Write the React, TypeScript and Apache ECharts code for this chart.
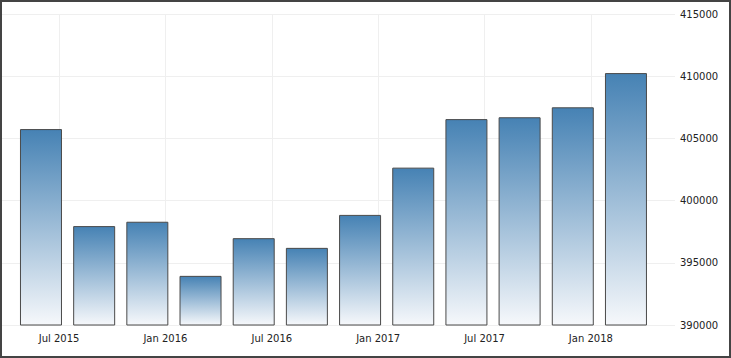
import React, { useEffect, useRef } from "react";
import * as echarts from "echarts";

const periods = [
  "Jul 2015", "Oct 2015", "Jan 2016", "Apr 2016", "Jul 2016", "Oct 2016",
  "Jan 2017", "Apr 2017", "Jul 2017", "Oct 2017", "Jan 2018", "Apr 2018",
];
const values = [
  405750, 397950, 398300, 393950, 396980, 396200,
  398850, 402650, 406550, 406700, 407500, 410250,
];
const xTickLabels = ["Jul 2015", "Jan 2016", "Jul 2016", "Jan 2017", "Jul 2017", "Jan 2018"];
const yMin = 390000;
const yMax = 415000;
const yStep = 5000;

// x-axis geometry in bar-index units
const X_MIN = -0.733;
const X_MAX = 11.922;
const LABEL_OFFSET = 0.34;

export default function App() {
  const ref = useRef<HTMLDivElement>(null);

  useEffect(() => {
    if (!ref.current) return;
    const chart = echarts.init(ref.current, undefined, { renderer: "svg" });
    const labelPositions = xTickLabels.map((_, k) => k * 2 + LABEL_OFFSET);
    const font = { fontFamily: "DejaVu Sans", fontSize: 10, color: "#222" };
    chart.setOption({
      animation: false,
      backgroundColor: "#fff",
      grid: { left: 2, right: 56, top: 14, bottom: 33 },
      xAxis: {
        type: "value",
        min: X_MIN,
        max: X_MAX,
        axisLine: { show: false },
        axisTick: { show: false, customValues: labelPositions },
        axisLabel: {
          ...font,
          margin: 8,
          customValues: labelPositions,
          formatter: (v: number) => {
            const k = Math.round((v - LABEL_OFFSET) / 2);
            return xTickLabels[k] ?? "";
          },
        },
        splitLine: { show: true, lineStyle: { color: "#efefef", width: 1 } },
      },
      yAxis: {
        type: "value",
        position: "right",
        min: yMin,
        max: yMax,
        interval: yStep,
        axisLine: { show: false },
        axisTick: { show: false },
        axisLabel: { ...font, margin: 5, formatter: (v: number) => String(v) },
        splitLine: { show: true, lineStyle: { color: "#efefef", width: 1 } },
      },
      series: [
        {
          type: "bar",
          barWidth: 42,
          data: values.map((v, i) => ({ value: [i, v], name: periods[i] })),
          itemStyle: {
            borderColor: "#4a4a4a",
            borderWidth: 1,
            color: new echarts.graphic.LinearGradient(0, 0, 0, 1, [
              { offset: 0, color: "#4682b4" },
              { offset: 1, color: "#f6f8fb" },
            ]),
          },
        },
      ],
    });
    return () => chart.dispose();
  }, []);

  return (
    <div style={{ position: "fixed", left: 0, top: 0, width: 731, height: 358 }}>
      <div ref={ref} style={{ position: "absolute", left: 0, top: 0, width: 731, height: 358 }} />
      <div
        style={{
          position: "absolute",
          left: 0,
          top: 0,
          width: 731,
          height: 358,
          boxSizing: "border-box",
          border: "2px solid #444",
          pointerEvents: "none",
        }}
      />
    </div>
  );
}
